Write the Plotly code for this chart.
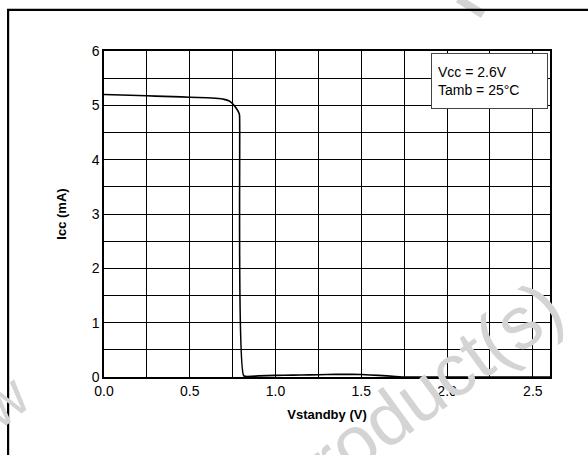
import plotly.graph_objects as go

# Supply current versus standby voltage (Vcc = 2.6 V, Tamb = 25 °C)
vstandby = [0.0, 0.1, 0.2, 0.3, 0.4, 0.5, 0.6, 0.65, 0.7, 0.73, 0.75, 0.77,
            0.785, 0.79, 0.815, 0.9, 1.0, 1.1, 1.2, 1.3, 1.4, 1.5, 1.6,
            1.7, 1.76, 2.0, 2.6]
icc_ma = [5.20, 5.19, 5.18, 5.17, 5.16, 5.15, 5.14, 5.13, 5.11, 5.08, 5.03, 4.95,
          4.87, 4.82, 0.02, 0.02, 0.03, 0.035, 0.04, 0.045, 0.05, 0.045, 0.03,
          0.01, 0.0, 0.0, 0.0]

x_tickvals = [0.0, 0.5, 1.0, 1.5, 2.0, 2.5]
x_ticktext = ["0.0", "0.5", "1.0", "1.5", "2.0", "2.5"]
y_tickvals = [0, 1, 2, 3, 4, 5, 6]
y_ticktext = ["0", "1", "2", "3", "4", "5", "6"]

conditions = ["Vcc = 2.6V", "Tamb = 25°C"]

FONT = "Liberation Sans, Arial, sans-serif"
MARK_FONT = "Liberation Sans Narrow, Arial Narrow, Liberation Sans, sans-serif"
MARK_GREY = "#d4d4d4"

fig = go.Figure()
fig.add_trace(go.Scatter(
    x=vstandby, y=icc_ma, mode="lines",
    line=dict(color="black", width=1.6, shape="spline", smoothing=0.4),
    showlegend=False, hoverinfo="skip",
))

fig.update_layout(
    width=588, height=455,
    margin=dict(l=104, r=38, t=51, b=78),
    paper_bgcolor="white", plot_bgcolor="white",
    font=dict(family=FONT, color="black", size=14),
    showlegend=False,
)

fig.update_xaxes(
    range=[0, 2.6], tickvals=x_tickvals, ticktext=x_ticktext,
    showgrid=True, gridcolor="black", gridwidth=1,
    minor=dict(dtick=0.25, tick0=0, showgrid=True, gridcolor="black", gridwidth=1),
    showline=True, linecolor="black", linewidth=1.5, mirror=True,
    ticks="", ticklen=0, zeroline=False,
    tickfont=dict(size=14, family=FONT),
    title=dict(text="<b>Vstandby (V)</b>", font=dict(size=13, family=FONT), standoff=12),
)
fig.update_yaxes(
    range=[0, 6], tickvals=y_tickvals, ticktext=y_ticktext,
    showgrid=True, gridcolor="black", gridwidth=1,
    minor=dict(dtick=0.5, tick0=0, showgrid=True, gridcolor="black", gridwidth=1),
    showline=True, linecolor="black", linewidth=1.5, mirror=True,
    ticks="", ticklen=0, zeroline=False,
    tickfont=dict(size=14, family=FONT),
    title=dict(text="<b>Icc (mA)</b>", font=dict(size=13, family=FONT), standoff=22),
)

# Test-condition box in the upper-right corner
fig.add_annotation(
    xref="paper", yref="paper", x=0.9955, y=0.994,
    xanchor="right", yanchor="top",
    text="<br>".join(conditions), align="left",
    showarrow=False, bgcolor="white",
    bordercolor="#444444", borderwidth=1, borderpad=6,
    width=103, height=42,
    font=dict(size=14, family=FONT),
)

# Faint watermark stroke near the top edge
fig.add_shape(
    type="line", xref="paper", yref="paper", layer="below",
    x0=0.794, y0=1.16, x1=0.85, y1=1.112,
    line=dict(color=MARK_GREY, width=8),
)

# Outer frame around the figure
fig.add_shape(
    type="rect", xref="paper", yref="paper",
    x0=-0.215, x1=1.2, y0=-0.5, y1=1.126,
    line=dict(color="black", width=2.2), fillcolor="rgba(0,0,0,0)",
)

# Watermark text drawn over the chart
fig.add_annotation(
    xref="paper", yref="paper", x=0.706, y=-0.058,
    xanchor="center", yanchor="middle",
    text="product(s)", showarrow=False, textangle=-36,
    font=dict(size=74, family=MARK_FONT, color=MARK_GREY),
)
fig.add_annotation(
    xref="paper", yref="paper", x=-0.225, y=-0.075,
    xanchor="center", yanchor="middle",
    text="w", showarrow=False, textangle=-38,
    font=dict(size=60, family=MARK_FONT, color=MARK_GREY),
)

fig.write_html("out.html")
